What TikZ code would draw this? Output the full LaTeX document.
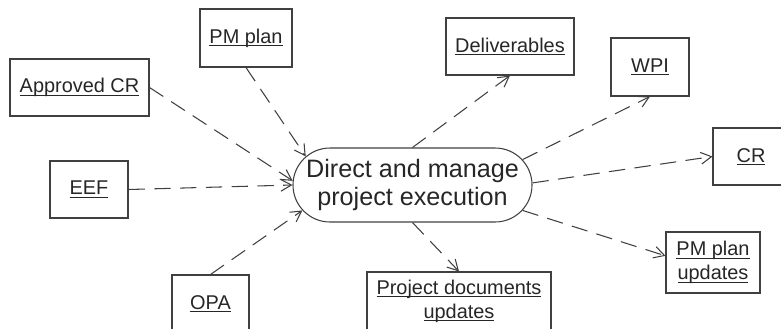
\documentclass[tikz,border=0pt]{standalone}
\usepackage{fontspec}
\setmainfont{Liberation Sans}
\usepackage{tikz}
\usetikzlibrary{shapes.misc}
\usetikzlibrary{arrows.meta}
\definecolor{edgegray}{HTML}{404040}
\newcommand{\undl}[1]{\sbox0{#1}\rlap{\rule[-2.4pt]{\wd0}{0.8pt}}\usebox0}

\begin{document}
\begin{tikzpicture}[x=0.03cm,y=-0.03cm,
  box/.style={draw=edgegray,line width=0.9pt,inner sep=0pt,align=center,
    text=black!85,font=\fontsize{17}{20.5}\selectfont},
  flow/.style={draw=edgegray,line width=0.9pt,dash pattern=on 14pt off 8pt,
    -{Straight Barb[length=9pt,width=10pt]}}]
\clip (0,0) rectangle (781,328);
\node at (412.5,185)[rounded rectangle,draw=edgegray,line width=0.9pt,inner sep=0pt,
  minimum width=7.17cm,minimum height=2.22cm,align=center,text=black!85,
  font=\fontsize{21.5}{24}\selectfont] (X) {Direct and manage\\project execution};
\node at (246,38)[box,minimum width=2.76cm,minimum height=1.74cm] (PM) {\undl{PM plan}};
\node at (79.5,87.5)[box,minimum width=4.17cm,minimum height=1.71cm] (ACR) {\undl{Approved CR}};
\node at (89,189.5)[box,minimum width=2.34cm,minimum height=1.71cm] (EEF) {\undl{EEF}};
\node at (210.5,303.5)[box,minimum width=2.31cm,minimum height=1.71cm] (OPA) {\undl{OPA}};
\node at (459,301)[box,minimum width=5.52cm,minimum height=1.74cm] (PD) {\undl{Project documents}\\\undl{updates}};
\node at (510,46.5)[box,minimum width=3.84cm,minimum height=1.71cm] (Del) {\undl{Deliverables}};
\node at (650,67)[box,minimum width=2.34cm,minimum height=1.74cm] (WPI) {\undl{WPI}};
\node at (751,156.5)[box,minimum width=2.28cm,minimum height=1.71cm] (CR) {\undl{CR}};
\node at (713,262.5)[box,minimum width=2.82cm,minimum height=1.83cm] (PMU) {\undl{PM plan}\\\undl{updates}};
% inputs
\draw[flow] (PM.south) -- (X.165);
\draw[flow] (ACR.east) -- (X.178);
\draw[flow] (EEF.east) -- (X.west);
\draw[flow] (OPA.north) -- (X.193);
% outputs
\draw[flow] (X.north) -- (Del.south);
\draw[flow] (X.13) -- (WPI.south);
\draw[flow] (X.1) -- (CR.west);
\draw[flow] (X.-13) -- (PMU.172);
\draw[flow] (X.south) -- (PD.north);
\end{tikzpicture}
\end{document}
